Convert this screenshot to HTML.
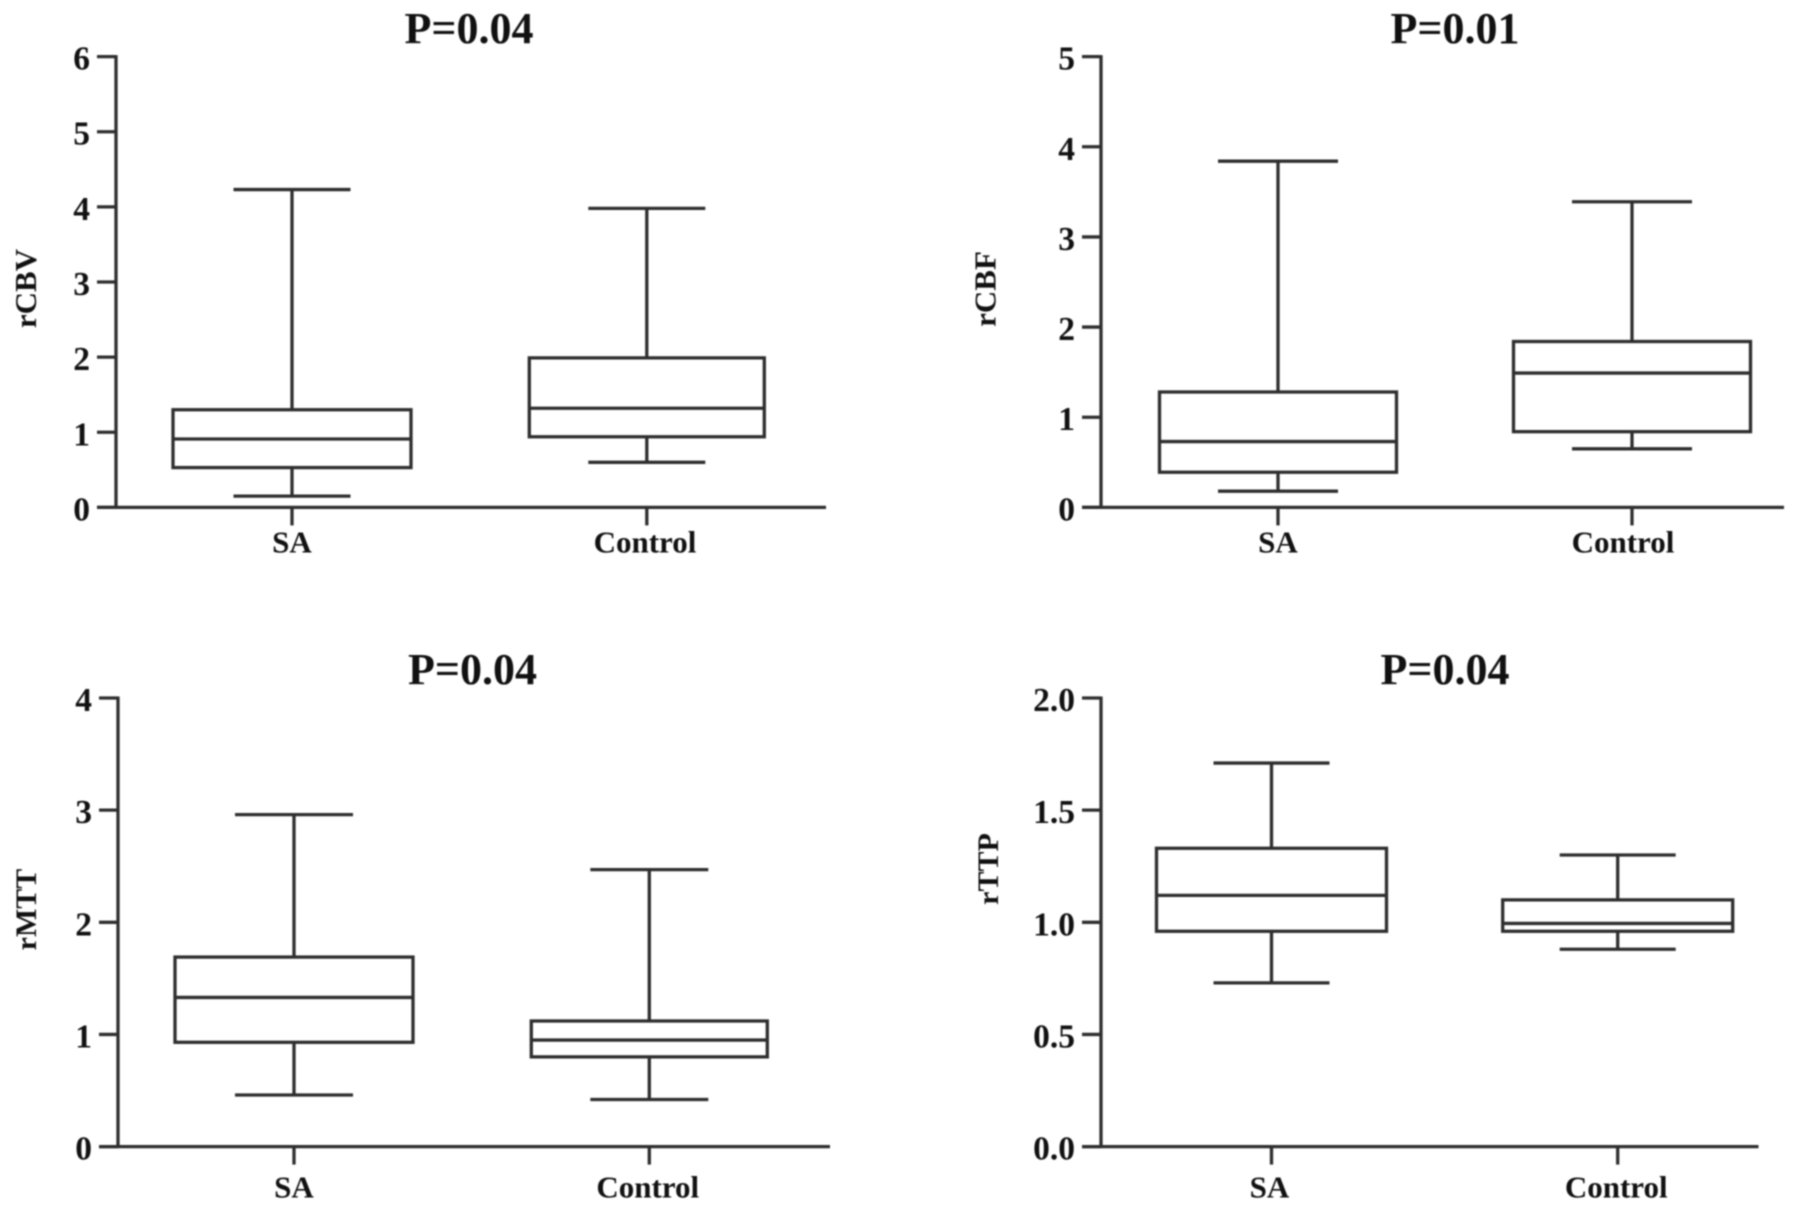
<!DOCTYPE html>
<html lang="en">
<head>
<meta charset="utf-8">
<title>Box plots of rCBV, rCBF, rMTT and rTTP</title>
<style>
html,body{margin:0;padding:0;background:#fff;width:1795px;height:1214px;overflow:hidden}
svg{display:block;filter:blur(0.7px)}
text{font-family:"Liberation Serif","DejaVu Serif",serif;font-weight:bold;fill:#111}
.title{font-size:44px;text-anchor:middle}
.ylab{text-anchor:middle}
.ytick{font-size:33.5px;text-anchor:end}
.xtick{font-size:31px;text-anchor:middle}
line,rect{stroke:#2e2e2e;stroke-width:3.3;fill:none}
</style>
</head>
<body>
<svg id="figure" width="1795" height="1214" viewBox="0 0 1795 1214" xmlns="http://www.w3.org/2000/svg">
  <g id="panel-rcbv">
    <text class="title" x="469" y="43">P=0.04</text>
    <text class="ylab" font-size="31" transform="translate(36 288.5) rotate(-90)">rCBV</text>
  </g>
  <g id="panel-rcbf">
    <text class="title" x="1455" y="43">P=0.01</text>
    <text class="ylab" font-size="31" transform="translate(995.5 289) rotate(-90)">rCBF</text>
  </g>
  <g id="panel-rmtt">
    <text class="title" x="472.5" y="684">P=0.04</text>
    <text class="ylab" font-size="30" transform="translate(36 909.5) rotate(-90)">rMTT</text>
  </g>
  <g id="panel-rttp">
    <text class="title" x="1445" y="684">P=0.04</text>
    <text class="ylab" font-size="30" transform="translate(998 869) rotate(-90)">rTTP</text>
  </g>
</svg>
<script>
// Chart data: each group is [lower whisker, Q1, median, Q3, upper whisker]
const categories = ['SA', 'Control'];

const rcbvSA = [0.15, 0.53, 0.91, 1.30, 4.23];
const rcbvControl = [0.60, 0.94, 1.32, 1.99, 3.98];
const rcbvTickValues = [0, 1, 2, 3, 4, 5, 6];
const rcbvTickLabels = ['0', '1', '2', '3', '4', '5', '6'];

const rcbfSA = [0.18, 0.39, 0.73, 1.28, 3.84];
const rcbfControl = [0.65, 0.84, 1.49, 1.84, 3.39];
const rcbfTickValues = [0, 1, 2, 3, 4, 5];
const rcbfTickLabels = ['0', '1', '2', '3', '4', '5'];

const rmttSA = [0.46, 0.93, 1.33, 1.69, 2.96];
const rmttControl = [0.42, 0.80, 0.95, 1.12, 2.47];
const rmttTickValues = [0, 1, 2, 3, 4];
const rmttTickLabels = ['0', '1', '2', '3', '4'];

const rttpSA = [0.73, 0.96, 1.12, 1.33, 1.71];
const rttpControl = [0.88, 0.96, 0.995, 1.10, 1.30];
const rttpTickValues = [0, 0.5, 1, 1.5, 2];
const rttpTickLabels = ['0.0', '0.5', '1.0', '1.5', '2.0'];

const SVG_NS = 'http://www.w3.org/2000/svg';

function addLine(parent, name, x1, y1, x2, y2) {
  const el = document.createElementNS(SVG_NS, 'line');
  
  
  el.setAttribute('x1', x1);
  el.setAttribute('y1', y1);
  el.setAttribute('x2', x2);
  el.setAttribute('y2', y2);
  parent.appendChild(el);
  return el;
}

function addText(parent, name, cls, x, y, str) {
  const el = document.createElementNS(SVG_NS, 'text');
  
  
  el.setAttribute('class', cls);
  el.setAttribute('x', x);
  el.setAttribute('y', y);
  el.textContent = str;
  parent.appendChild(el);
  return el;
}

function drawPanel(cfg) {
  const g = document.getElementById(cfg.id);
  const prefix = cfg.prefix;
  const yScale = v => cfg.bottom - (v / cfg.maxValue) * (cfg.bottom - cfg.top);
  const xScale = i => cfg.left + cfg.firstOffset + i * cfg.step;

  // Axes
  addLine(g, prefix + '-y-axis', cfg.left, cfg.top - 1.5, cfg.left, cfg.bottom);
  addLine(g, prefix + '-x-axis', cfg.left - 19, cfg.bottom, cfg.right, cfg.bottom);

  // Y ticks
  cfg.tickValues.forEach((v, i) => {
    const y = yScale(v);
    addLine(g, prefix + '-y-tick-' + i, cfg.left - 19, y, cfg.left, y);
    addText(g, prefix + '-y-tick-label-' + i, 'ytick', cfg.left - 26, y + 13, cfg.tickLabels[i]);
  });

  // Groups
  cfg.groups.forEach((stats, i) => {
    const name = prefix + '-' + categories[i].toLowerCase();
    const cx = xScale(i);
    const half = cfg.boxHalf[i];
    const lo = yScale(stats[0]);
    const q1 = yScale(stats[1]);
    const med = yScale(stats[2]);
    const q3 = yScale(stats[3]);
    const hi = yScale(stats[4]);

    addLine(g, name + '-x-tick', cx, cfg.bottom, cx, cfg.bottom + 18);
    addText(g, name + '-x-label', 'xtick', cx + cfg.labelShift[i], cfg.bottom + cfg.labelDrop, categories[i]);

    addLine(g, name + '-upper-whisker', cx, q3, cx, hi);
    addLine(g, name + '-lower-whisker', cx, q1, cx, lo);
    addLine(g, name + '-upper-cap', cx - cfg.capHalf, hi, cx + cfg.capHalf, hi);
    addLine(g, name + '-lower-cap', cx - cfg.capHalf, lo, cx + cfg.capHalf, lo);

    const box = document.createElementNS(SVG_NS, 'rect');
    
    
    box.setAttribute('x', cx - half);
    box.setAttribute('y', q3);
    box.setAttribute('width', half * 2);
    box.setAttribute('height', q1 - q3);
    g.appendChild(box);

    addLine(g, name + '-median', cx - half, med, cx + half, med);
  });
}

drawPanel({
  id: 'panel-rcbv', prefix: 'rcbv',
  left: 116, right: 826, top: 56.6, bottom: 507.4, maxValue: 6,
  firstOffset: 176, step: 354.8, boxHalf: [119, 117.5], capHalf: 58.5, labelShift: [0, -1.8], labelDrop: 45,
  tickValues: rcbvTickValues, tickLabels: rcbvTickLabels, groups: [rcbvSA, rcbvControl]
});
drawPanel({
  id: 'panel-rcbf', prefix: 'rcbf',
  left: 1101, right: 1784, top: 56.6, bottom: 507.4, maxValue: 5,
  firstOffset: 177, step: 354, boxHalf: [118.5, 118.5], capHalf: 60, labelShift: [0, -9], labelDrop: 45,
  tickValues: rcbfTickValues, tickLabels: rcbfTickLabels, groups: [rcbfSA, rcbfControl]
});
drawPanel({
  id: 'panel-rmtt', prefix: 'rmtt',
  left: 118, right: 830, top: 698, bottom: 1146.6, maxValue: 4,
  firstOffset: 176, step: 355.3, boxHalf: [119, 118], capHalf: 59, labelShift: [0, -1.5], labelDrop: 51,
  tickValues: rmttTickValues, tickLabels: rmttTickLabels, groups: [rmttSA, rmttControl]
});
drawPanel({
  id: 'panel-rttp', prefix: 'rttp',
  left: 1101, right: 1758.5, top: 698, bottom: 1146.6, maxValue: 2,
  firstOffset: 170.5, step: 346.2, boxHalf: [115, 115], capHalf: 58, labelShift: [-2, -1.5], labelDrop: 51,
  tickValues: rttpTickValues, tickLabels: rttpTickLabels, groups: [rttpSA, rttpControl]
});
</script>
</body>
</html>
